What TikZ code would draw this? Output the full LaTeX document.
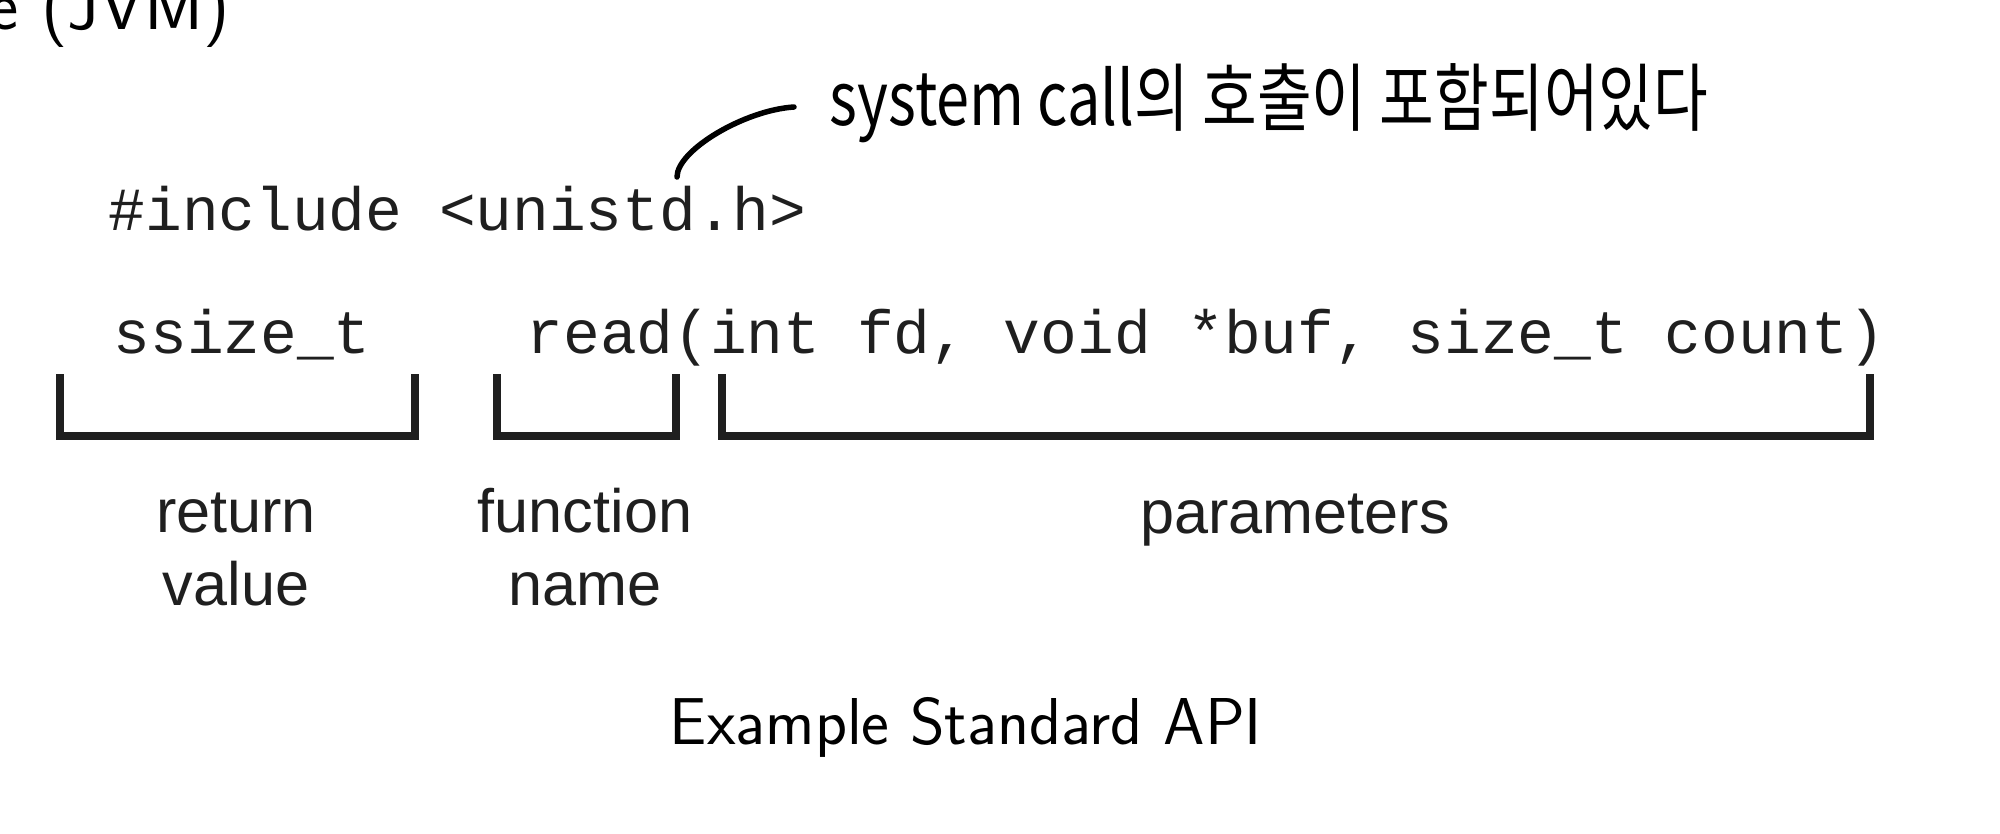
\documentclass[tikz,border=0pt]{standalone}
\usepackage{fontspec}
\newfontfamily\codefont{Liberation Mono}
\newfontfamily\labelfont{Liberation Sans}
\newfontfamily\handfont{Noto Sans CJK KR}
\begin{document}
\begin{tikzpicture}[x=0.01cm,y=-0.01cm,
  code/.style={font=\codefont\fontsize{17.4}{20}\selectfont, inner sep=0, anchor=base west, text=black!88},
  lbl/.style={font=\labelfont\fontsize{17.4}{20.5}\selectfont, inner sep=0, align=center, anchor=base, text=black!88},
  brk/.style={line width=0.085cm, draw=black!88, line join=miter},
  pen/.style={line width=0.055cm, line cap=round, draw=black}]
\useasboundingbox (0,0) rectangle (2000,833);

\node[anchor=base east, inner sep=0, font=\sffamily\fontsize{20.5}{24}\selectfont] (jvm) at (231,29) {e (JVM)};

\node[anchor=west, inner sep=0, font=\handfont\fontsize{16.9}{20}\selectfont] (note) at (829,103) {\scalebox{1}[1.25]{system call의 호출이 포함되어있다}};
\coordinate (cs) at (794,107);
\coordinate (ce) at (677,177);
\draw[pen] (cs) .. controls (745,110) and (677,150) .. (ce);

\node[code] (inc) at (108,230) {\#include <unistd.h>};
\node[code] (rettype) at (113,353) {ssize\_t};
\node[code] (call) at (526,353) {read(int fd, void *buf, size\_t count)};

\draw[brk] (60,374) -- (60,436) -- (415,436) -- (415,374);
\draw[brk] (497,374) -- (497,436) -- (676,436) -- (676,374);
\draw[brk] (722,374) -- (722,436) -- (1870,436) -- (1870,374);

\node[lbl] (rv) at (236,605) {return\\value};
\node[lbl] (fnm) at (585,605) {function\\name};
\node[lbl] (par) at (1295,533) {parameters};

\node[anchor=base, inner sep=0, font=\sffamily\fontsize{18.85}{22}\selectfont] (cap) at (966,744) {Example Standard API};
\end{tikzpicture}
\end{document}
